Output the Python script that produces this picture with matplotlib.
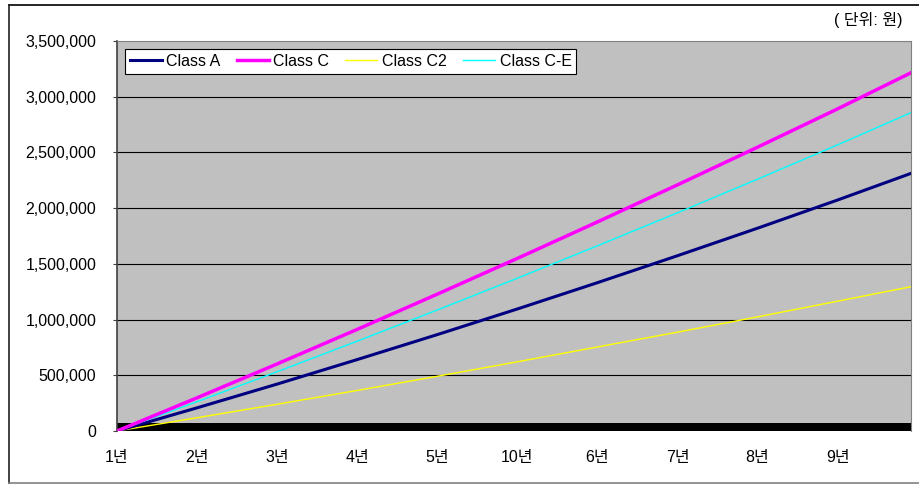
import matplotlib.pyplot as plt
from matplotlib.lines import Line2D
from matplotlib.ticker import FuncFormatter

plt.rcParams['font.family'] = ['Liberation Sans', 'Noto Sans CJK KR']

# month index of each reading (10 years of monthly data, read at each year mark)
months = [0, 12, 24, 36, 48, 60, 72, 84, 96, 108, 119]
class_a = [0, 208000, 421000, 641000, 865000, 1095000, 1331000, 1573000, 1820000, 2073000, 2312000]
class_c = [0, 298000, 602000, 912000, 1228000, 1549000, 1876000, 2209000, 2547000, 2891000, 3215000]
class_c2 = [0, 119000, 240000, 364000, 491000, 621000, 754000, 887000, 1024000, 1165000, 1295000]
class_ce = [0, 263000, 532000, 806000, 1086000, 1371000, 1662000, 1958000, 2260000, 2568000, 2857000]

tick_months = [0, 12, 24, 36, 48, 60, 72, 84, 96, 108]
tick_labels = ['1년', '2년', '3년', '4년', '5년', '10년', '6년', '7년', '8년', '9년']
y_ticks = [0, 500000, 1000000, 1500000, 2000000, 2500000, 3000000, 3500000]

fig = plt.figure(figsize=(9.19, 4.84), dpi=100)
W, H = 919, 484
ax = fig.add_axes([117 / W, 1 - 431 / H, (911 - 117) / W, (431 - 41) / H])
ax.set_facecolor('#C0C0C0')

for y in y_ticks[1:-1]:
    ax.axhline(y, color='black', lw=0.8, zorder=1)

# thick black strip along the category axis
ax.axhspan(0, 70000, color='black', lw=0, zorder=2)

ax.plot(months, class_a, color='#000080', lw=2.2, label='Class A', zorder=4)
ax.plot(months, class_c, color='#FF00FF', lw=2.5, label='Class C', zorder=5)
ax.plot(months, class_c2, color='#FFFF00', lw=1.0, label='Class C2', zorder=3)
ax.plot(months, class_ce, color='#00FFFF', lw=1.0, label='Class C-E', zorder=4)

ax.set_xlim(0, 119)
ax.set_ylim(0, 3500000)
ax.set_xticks(tick_months)
ax.set_xticklabels(tick_labels)
ax.set_yticks(y_ticks)
ax.yaxis.set_major_formatter(FuncFormatter(lambda v, p: f'{int(v):,}'))
ax.tick_params(axis='x', length=0, pad=14, labelsize=11.5, colors='#000000')
ax.tick_params(axis='y', length=3, width=0.8, pad=12, labelsize=11.5, color='#404040')

ax.spines['left'].set_color('#404040')
ax.spines['left'].set_linewidth(1.2)
ax.spines['top'].set_color('#808080')
ax.spines['right'].set_color('#808080')
ax.spines['bottom'].set_visible(False)

leg = ax.legend(loc='upper left', bbox_to_anchor=(0.010, 0.979), ncol=4,
                fontsize=11.5, frameon=True, fancybox=False, framealpha=1,
                edgecolor='black', borderaxespad=0, borderpad=0.3,
                handlelength=2.0, handletextpad=0.3, columnspacing=1.0)
leg.get_frame().set_linewidth(0.8)
leg.set_zorder(10)

fig.text(902 / W, 1 - 20 / H, '( 단위: 원)', ha='right', va='center', fontsize=11.5)

# outer chart frame
fig.add_artist(Line2D([9 / W, 1], [1 - 5 / H, 1 - 5 / H], color='black', lw=1.2))
fig.add_artist(Line2D([9 / W, 9 / W], [1 - 5 / H, 1 - 483 / H], color='#202020', lw=1.2))
fig.add_artist(Line2D([9 / W, 1], [1 - 483 / H, 1 - 483 / H], color='#808080', lw=1.2))

fig.savefig('out.png', dpi=100)
